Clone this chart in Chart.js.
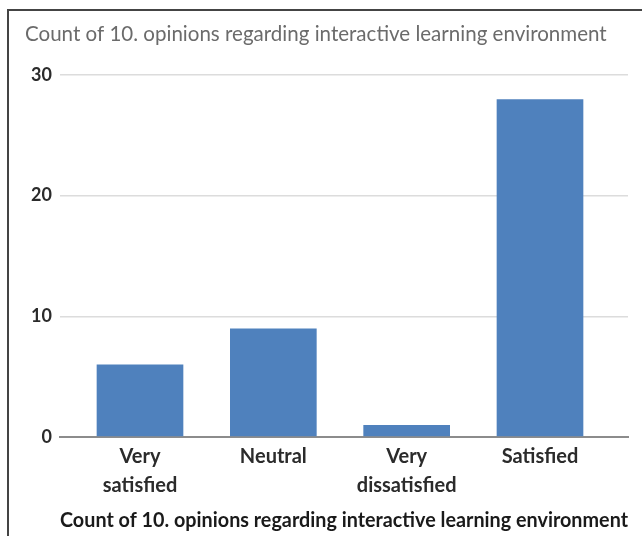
<!DOCTYPE html>
<html>
<head>
<meta charset="utf-8">
<script src="https://cdn.jsdelivr.net/npm/chart.js@4"></script>
<style>
	html, body { margin: 0; padding: 0; background: #fff; overflow: hidden; }
	#frame { position: absolute; left: 7px; top: 9px; width: 700px; height: 600px;
		border-left: 2px solid #444; border-top: 2px solid #444; }
	#wrap { position: absolute; left: 0; top: 0; width: 642px; height: 536px; }
</style>
</head>
<body>
<div id="frame"></div>
<div id="wrap"><canvas id="chart" width="642" height="536"></canvas></div>
<script>
	// data
	var titleText = 'Count of 10. opinions regarding interactive learning environment';
	var categories = [['Very', 'satisfied'], 'Neutral', ['Very', 'dissatisfied'], 'Satisfied'];
	var counts = [6, 9, 1, 28];
	var yTicks = [0, 10, 20, 30];

	// pick a font size so a string takes the same width as in the picture
	var fitSize = function(text, width, weight, family){
		var c = document.createElement('canvas').getContext('2d');
		c.font = weight + ' 20px ' + family;
		return 20 * width / c.measureText(text).width;
	};
	var topTitleSize = fitSize(titleText, 582, 'normal', 'Lato');
	var axisTitleSize = fitSize(titleText, 583, 'bold', 'Lato');

	var topTitle = {
		id: 'topTitle',
		afterDraw: function(chart){
			var ctx = chart.ctx;
			ctx.save();
			ctx.font = 'normal ' + topTitleSize + 'px Lato';
			ctx.fillStyle = '#6b6b6b';
			ctx.textAlign = 'left';
			ctx.textBaseline = 'middle';
			ctx.fillText(titleText, 25, 34);
			ctx.restore();
		}
	};

	var points = counts.map(function(v, i){ return {x: i, y: v}; });

	new Chart(document.getElementById('chart'), {
		type: 'bar',
		data: {
			datasets: [{
				data: points,
				backgroundColor: '#4f81bd',
				borderWidth: 0,
				barPercentage: 0.65,
				categoryPercentage: 1
			}]
		},
		options: {
			responsive: false,
			animation: false,
			layout: { padding: { top: 75, right: 14, bottom: 0, left: 0 } },
			plugins: { legend: { display: false }, tooltip: { enabled: false }, title: { display: false } },
			scales: {
				x: {
					type: 'linear',
					offset: false,
					min: -0.6,
					max: 3.66,
					grid: { display: false },
					border: { display: true, color: '#8c8c8c', width: 2 },
					afterBuildTicks: function(scale){
						scale.ticks = categories.map(function(c, i){ return {value: i}; });
					},
					afterFit: function(scale){ scale.height = 99; },
					ticks: {
						autoSkip: false,
						maxRotation: 0,
						padding: -3,
						color: '#2b2b2b',
						font: { family: 'Lato', size: 20, weight: 'bold', lineHeight: 1.45 },
						callback: function(value){ return categories[value]; }
					},
					title: {
						display: true,
						text: titleText,
						color: '#1a1a1a',
						font: { family: 'Lato', size: axisTitleSize, weight: 'bold' },
						padding: { top: 0, bottom: 3 }
					}
				},
				y: {
					min: 0,
					max: 30,
					grid: { color: '#dcdcdc', lineWidth: 1.5, drawTicks: false },
					border: { display: false },
					afterBuildTicks: function(scale){
						scale.ticks = yTicks.map(function(v){ return {value: v}; });
					},
					afterFit: function(scale){ scale.width = 60; },
					ticks: {
						padding: 8,
						color: '#2b2b2b',
						font: { family: 'Lato', size: 18, weight: 'bold' }
					}
				}
			}
		},
		plugins: [topTitle]
	});
</script>
</body>
</html>
